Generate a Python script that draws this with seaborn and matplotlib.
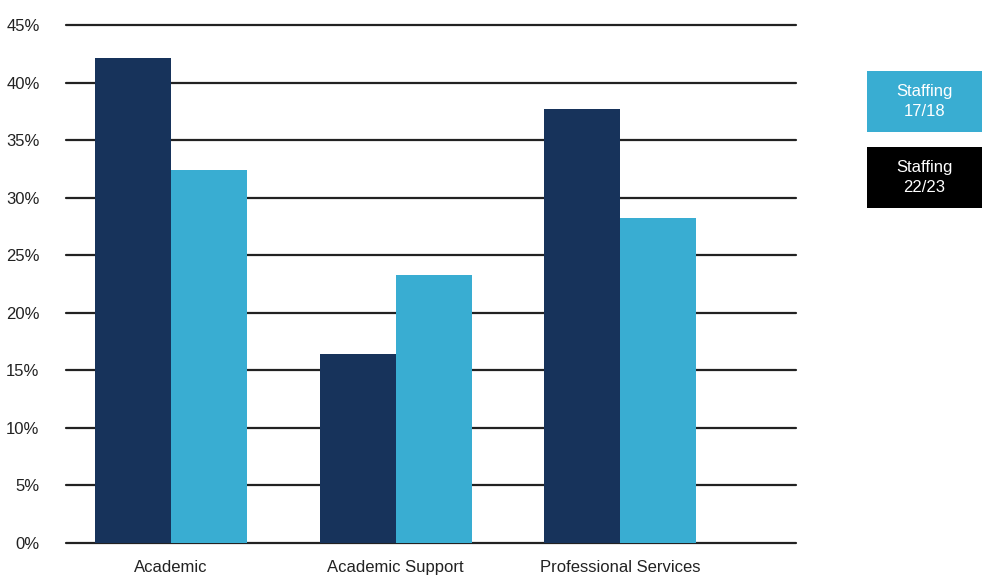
import pandas as pd
import seaborn as sns
import matplotlib.pyplot as plt
from matplotlib.patches import Rectangle

categories = ["Academic", "Academic Support", "Professional Services"]
staffing_2223 = [42.1, 16.4, 37.7]
staffing_1718 = [32.4, 23.3, 28.2]
series_names = ["Staffing\n22/23", "Staffing\n17/18"]
y_ticks = [0, 5, 10, 15, 20, 25, 30, 35, 40, 45]

NAVY = "#17335B"
LIGHT = "#39ADD2"

df = pd.DataFrame({
    "category": categories * 2,
    "series": [series_names[0]] * 3 + [series_names[1]] * 3,
    "value": staffing_2223 + staffing_1718,
})

sns.set_theme(style="white")
plt.rcParams["font.family"] = ["Liberation Sans Narrow", "Liberation Sans", "DejaVu Sans"]

fig = plt.figure(figsize=(9.82, 5.76), dpi=100)
ax = fig.add_axes([0.0672, 0.0573, 0.8106 - 0.0672, 0.9566 - 0.0573])

sns.barplot(data=df, x="category", y="value", hue="series",
            palette=[NAVY, LIGHT], width=0.677, gap=0, saturation=1,
            legend=False, ax=ax, zorder=3, linewidth=0, edgecolor="none")

ax.set_ylim(0, 45)
ax.set_xlim(-0.468, 2.784)
ax.set_yticks(y_ticks)
ax.set_yticklabels([f"{t}%" for t in y_ticks])
ax.set_xlabel("")
ax.set_ylabel("")
for y in y_ticks:
    ax.axhline(y, color="#222222", lw=1.6, zorder=1, clip_on=False)
for s in ax.spines.values():
    s.set_visible(False)
ax.tick_params(axis="both", length=0, labelsize=12, colors="#222222")
ax.tick_params(axis="y", pad=19)
ax.tick_params(axis="x", pad=12)

# legend boxes on the right
boxes = [(LIGHT, series_names[1], 71), ("#000000", series_names[0], 147)]
for color, label, top in boxes:
    x0 = 867 / 982
    w = 115 / 982
    h = 61 / 576
    y0 = 1 - (top + 61) / 576
    fig.patches.append(Rectangle((x0, y0), w, h, transform=fig.transFigure,
                                 facecolor=color, edgecolor="none"))
    fig.text(x0 + w / 2, y0 + h / 2, label, ha="center", va="center",
             color="white", fontsize=12, linespacing=1.45)

fig.savefig("out.png", dpi=100)
